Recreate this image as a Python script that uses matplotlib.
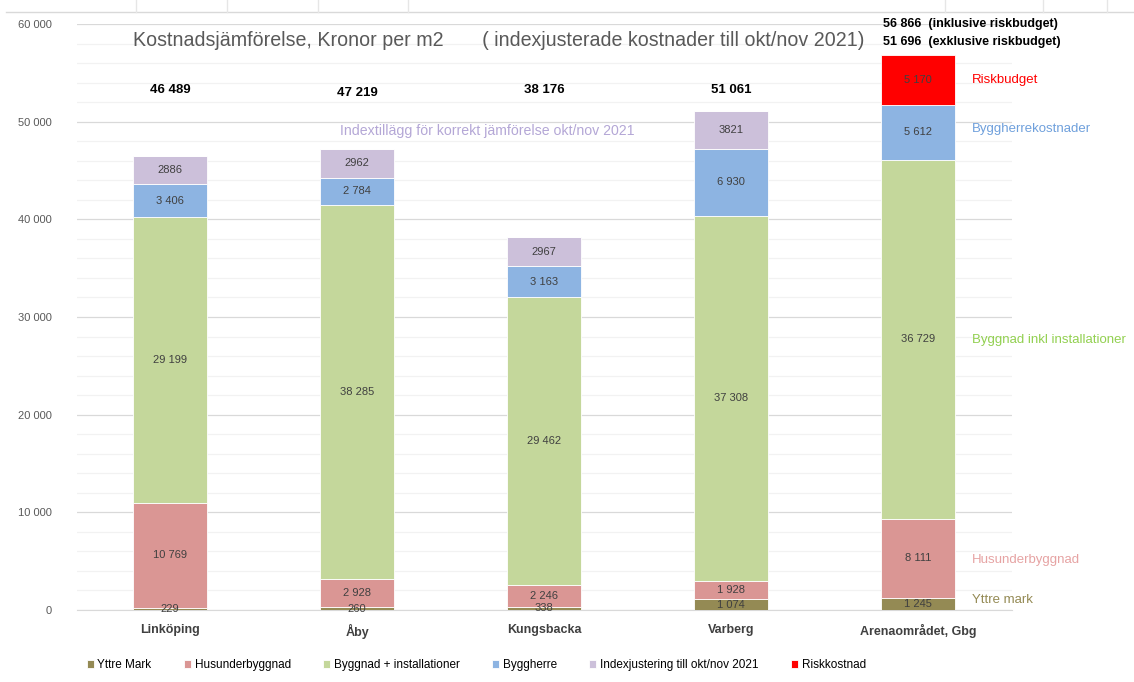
import numpy as np
import matplotlib.pyplot as plt
from matplotlib.lines import Line2D
from matplotlib.ticker import MultipleLocator, FuncFormatter

plt.rcParams['font.family'] = ['Liberation Sans', 'DejaVu Sans']

places = ["Linköping", "Åby", "Kungsbacka", "Varberg", "Arenaområdet, Gbg"]
yttre_mark = [229, 260, 338, 1074, 1245]
husunder = [10769, 2928, 2246, 1928, 8111]
byggnad = [29199, 38285, 29462, 37308, 36729]
byggherre = [3406, 2784, 3163, 6930, 5612]
index_adj = [2886, 2962, 2967, 3821, 0]
risk = [0, 0, 0, 0, 5170]
totals = ["46 489", "47 219", "38 176", "51 061"]

series = [
    ("Yttre Mark", yttre_mark, "#948A54"),
    ("Husunderbyggnad", husunder, "#DA9694"),
    ("Byggnad + installationer", byggnad, "#C4D79B"),
    ("Byggherre", byggherre, "#8DB4E2"),
    ("Indexjustering till okt/nov 2021", index_adj, "#CCC0DA"),
    ("Riskkostnad", risk, "#FF0000"),
]


def fmt(v):
    return f"{v:,}".replace(",", " ")


fig = plt.figure(figsize=(11.34, 6.82), dpi=100)
ax = fig.add_axes([0.0675, 0.1056, 0.8245, 0.8592])

x = np.arange(len(places))
bottom = np.zeros(len(places))
for name, vals, col in series:
    vals = np.array(vals, dtype=float)
    ax.bar(x, vals, 0.4, bottom=bottom, color=col, label=name, zorder=3,
           edgecolor="white", linewidth=0.6)
    for i, v in enumerate(vals):
        if v <= 0:
            continue
        txt = str(int(v)) if name.startswith("Index") else fmt(int(v))
        ax.text(x[i], bottom[i] + v / 2, txt, ha="center", va="center",
                fontsize=8, color="#404040", zorder=4)
    bottom += vals

ax.set_xlim(-0.5, len(places) - 0.5)
ax.set_ylim(0, 60000)
ax.yaxis.set_major_locator(MultipleLocator(10000))
ax.yaxis.set_minor_locator(MultipleLocator(2000))
ax.yaxis.set_major_formatter(FuncFormatter(lambda v, p: fmt(int(v))))
ax.grid(axis="y", which="major", color="#D9D9D9", lw=0.9, zorder=0)
ax.grid(axis="y", which="minor", color="#F2F2F2", lw=0.9, zorder=0)
for s in ["top", "right", "left"]:
    ax.spines[s].set_visible(False)
ax.spines["bottom"].set_color("#D9D9D9")
ax.tick_params(axis="both", which="both", length=0)
ax.tick_params(axis="y", labelsize=8, labelcolor="#595959", pad=18)
ax.set_xticks(x)
ax.set_xticklabels(places, fontsize=9, fontweight="bold", color="#404040")
ax.tick_params(axis="x", pad=10)

# totals above bars
for i, t in enumerate(totals):
    yy = 52900 if i == 1 else 53200
    ax.text(x[i], yy, t, ha="center", va="center", fontsize=9.5,
            fontweight="bold", color="black")
ax.text(3.81, 60050, "56 866  (inklusive riskbudget)", fontsize=9,
        fontweight="bold", va="center", ha="left")
ax.text(3.81, 58150, "51 696  (exklusive riskbudget)", fontsize=9,
        fontweight="bold", va="center", ha="left")

ax.text(-0.2, 58350,
        "Kostnadsjämförelse, Kronor per m2       ( indexjusterade kostnader till okt/nov 2021)",
        fontsize=14.1, color="#595959", va="center", ha="left")
ax.text(0.91, 49030, "Indextillägg för korrekt jämförelse okt/nov 2021",
        fontsize=10.2, color="#B4A7D6", va="center", ha="left")

# labels right of last bar
side = [("Riskbudget", 54300, "#FF0000"),
        ("Byggherrekostnader", 49200, "#6FA0DC"),
        ("Byggnad inkl installationer", 27650, "#92D050"),
        ("Husunderbyggnad", 5100, "#E6A3A3"),
        ("Yttre mark", 1000, "#948A54")]
for lbl, yy, col in side:
    ax.text(4.29, yy, lbl, fontsize=9.5, color=col, va="center", ha="left")

# legend at the bottom
handles, labels = ax.get_legend_handles_labels()
fig.legend(handles, labels, loc="center", bbox_to_anchor=(0.42, 0.025),
           ncol=6, frameon=False, fontsize=8.5, handlelength=0.6,
           handleheight=0.6, handletextpad=0.3, columnspacing=2.75)

# light top border like the sheet
fig.add_artist(Line2D([0.005, 1.0], [0.982, 0.982], color="#D9D9D9", lw=1))
for xt in [0.12, 0.2, 0.28, 0.36, 0.833, 0.92, 0.976]:
    fig.add_artist(Line2D([xt, xt], [0.982, 1.0], color="#E6E6E6", lw=1))

fig.savefig("out.png", dpi=100)
